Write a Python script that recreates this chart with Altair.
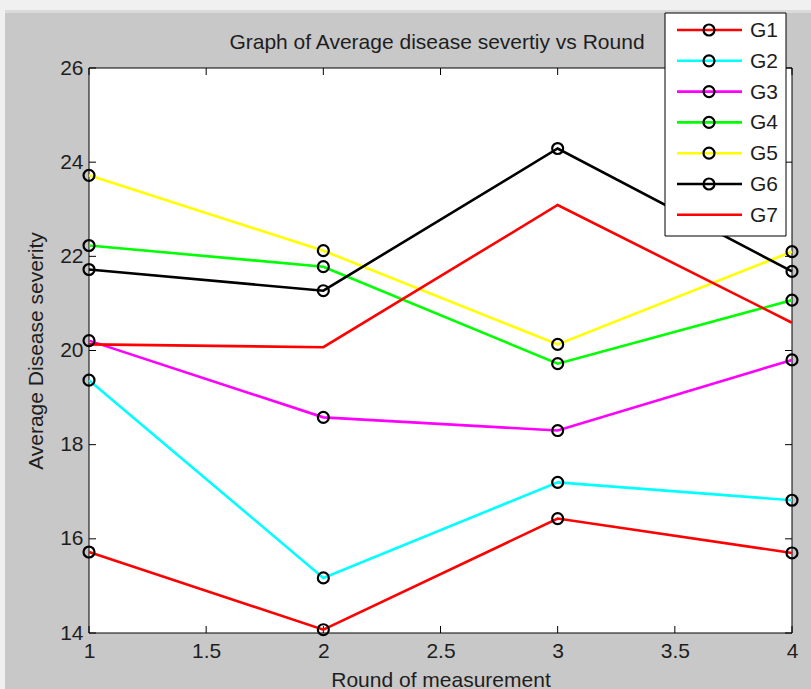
import altair as alt
import pandas as pd

# ---------------- data ----------------
rounds = [1, 2, 3, 4]
series_names = ["G1", "G2", "G3", "G4", "G5", "G6", "G7"]
series_colors = ["#ff0000", "#00ffff", "#ff00ff", "#00ff00", "#ffff00", "#000000", "#ff0000"]
g1 = [15.72, 14.07, 16.43, 15.70]
g2 = [19.37, 15.17, 17.20, 16.82]
g3 = [20.21, 18.58, 18.30, 19.80]
g4 = [22.23, 21.78, 19.72, 21.07]
g5 = [23.72, 22.12, 20.13, 22.10]
g6 = [21.72, 21.27, 24.29, 21.68]
g7 = [20.13, 20.07, 23.09, 20.59]
marker_series = ["G1", "G2", "G3", "G4", "G5", "G6"]

x_ticks = [1, 1.5, 2, 2.5, 3, 3.5, 4]
y_ticks = [14, 16, 18, 20, 22, 24, 26]

title_text = "Graph of Average disease severtiy vs Round"
x_title = "Round of measurement"
y_title = "Average Disease severity"

# ---------------- layout / style ----------------
W, H = 703, 565
PAD = {"left": 89, "top": 68, "right": 19, "bottom": 56}
FONT = "Liberation Sans, Arial, sans-serif"
TXT = "#1e1e1e"
FS = 21
LW = 2.6
MK = 120
LEG_TOP, LEG_STEP = -38, 30.8

all_vals = [g1, g2, g3, g4, g5, g6, g7]
rows = []
for name, vals in zip(series_names, all_vals):
    for r, v in zip(rounds, vals):
        rows.append({"series": name, "round": r, "value": v})
df = pd.DataFrame(rows)
df_mk = df[df["series"].isin(marker_series)]

xscale = alt.Scale(domain=[x_ticks[0], x_ticks[-1]], nice=False, zero=False)
yscale = alt.Scale(domain=[y_ticks[0], y_ticks[-1]], nice=False, zero=False)
color = alt.Color("series:N", scale=alt.Scale(domain=series_names, range=series_colors), legend=None)

AX = alt.Axis(values=x_ticks, format="~g", ticks=False, domain=False, grid=False,
              labelFlush=False, labelOverlap=False, labelPadding=7,
              labelFontSize=FS, labelColor=TXT, labelFont=FONT,
              title=x_title, titleFontSize=FS, titleFont=FONT,
              titleFontWeight="normal", titleColor=TXT,
              titleY=53, titleBaseline="alphabetic")
AY = alt.Axis(values=y_ticks, format="~g", ticks=False, domain=False, grid=False,
              labelFlush=False, labelOverlap=False, labelPadding=6,
              labelFontSize=FS, labelColor=TXT, labelFont=FONT,
              title=y_title, titleFontSize=FS, titleFont=FONT,
              titleFontWeight="normal", titleColor=TXT,
              titleX=-47, titleY=H / 2, titleAngle=270,
              titleAlign="center", titleBaseline="alphabetic")

def X(field):
    return alt.X(field, scale=xscale, axis=AX)

def Y(field):
    return alt.Y(field, scale=yscale, axis=AY)

one = pd.DataFrame({"k": [0]})
xt = pd.DataFrame({"v": x_ticks})
yt = pd.DataFrame({"v": y_ticks})

# plot box
box = alt.Chart(one).mark_rect(fill="white", stroke="black", strokeWidth=1).encode(
    x=alt.value(0), x2=alt.value(W), y=alt.value(0), y2=alt.value(H)
)

tick_style = dict(color="black", strokeWidth=1)
xt_bottom = alt.Chart(xt).mark_rule(**tick_style).encode(
    x=X("v:Q"), y=alt.value(H), y2=alt.value(H - 7))
xt_top = alt.Chart(xt).mark_rule(**tick_style).encode(
    x=X("v:Q"), y=alt.value(0), y2=alt.value(7))
yt_left = alt.Chart(yt).mark_rule(**tick_style).encode(
    y=Y("v:Q"), x=alt.value(0), x2=alt.value(7))
yt_right = alt.Chart(yt).mark_rule(**tick_style).encode(
    y=Y("v:Q"), x=alt.value(W), x2=alt.value(W - 7))

lines = alt.Chart(df).mark_line(strokeWidth=LW).encode(
    x=X("round:Q"), y=Y("value:Q"), color=color)

points = alt.Chart(df_mk).mark_point(shape="circle", filled=False, size=MK,
                                     strokeWidth=2.2, color="black", opacity=1).encode(
    x=X("round:Q"), y=Y("value:Q"), detail="series:N")

title = alt.Chart(one).mark_text(text=title_text, font=FONT, fontSize=FS, color=TXT,
                                 align="center", baseline="alphabetic").encode(
    x=alt.value(348), y=alt.value(-19))

# ---------------- decorations + legend ----------------
top_strip = alt.Chart(one).mark_rect(fill="#f0f0f0").encode(
    x=alt.value(-89), x2=alt.value(W + 19), y=alt.value(-68), y2=alt.value(-58))
top_line = alt.Chart(one).mark_rect(fill="#dadada").encode(
    x=alt.value(-84), x2=alt.value(W + 19), y=alt.value(-58), y2=alt.value(-55))
left_strip = alt.Chart(one).mark_rect(fill="#f0f0f0").encode(
    x=alt.value(-89), x2=alt.value(-84), y=alt.value(-68), y2=alt.value(H + 56))

# legend rows: pixel offsets (layout only, not data)
leg_df = pd.DataFrame({"series": series_names,
                       "ly": [LEG_TOP + i * LEG_STEP for i in range(len(series_names))]})
leg_mk = leg_df[leg_df["series"].isin(marker_series)]
leg_y = alt.Y("ly:Q", scale=None, axis=None)

leg_box = alt.Chart(one).mark_rect(fill="white", stroke="black", strokeWidth=1).encode(
    x=alt.value(576), x2=alt.value(697), y=alt.value(-55), y2=alt.value(168))
leg_lines = alt.Chart(leg_df).mark_rule(strokeWidth=LW).encode(
    x=alt.value(588), x2=alt.value(653), y=leg_y, color=color)
leg_pts = alt.Chart(leg_mk).mark_point(shape="circle", filled=False, size=MK,
                                       strokeWidth=2.2, color="black", opacity=1).encode(
    x=alt.value(620), y=leg_y)
leg_text = alt.Chart(leg_df).mark_text(align="left", baseline="middle", font=FONT,
                                       fontSize=FS, color=TXT, dy=1).encode(
    x=alt.value(661), y=leg_y, text="series:N")

chart = alt.layer(
    box, xt_bottom, xt_top, yt_left, yt_right, lines, points, title,
    top_strip, top_line, left_strip, leg_box, leg_lines, leg_pts, leg_text,
).properties(
    width=W, height=H, padding=PAD,
    autosize=alt.AutoSizeParams(type="none"),
    background="#c8c8c8",
).configure_view(stroke="transparent")

chart.save("out.html", embed_options={"renderer": "svg", "actions": False})
